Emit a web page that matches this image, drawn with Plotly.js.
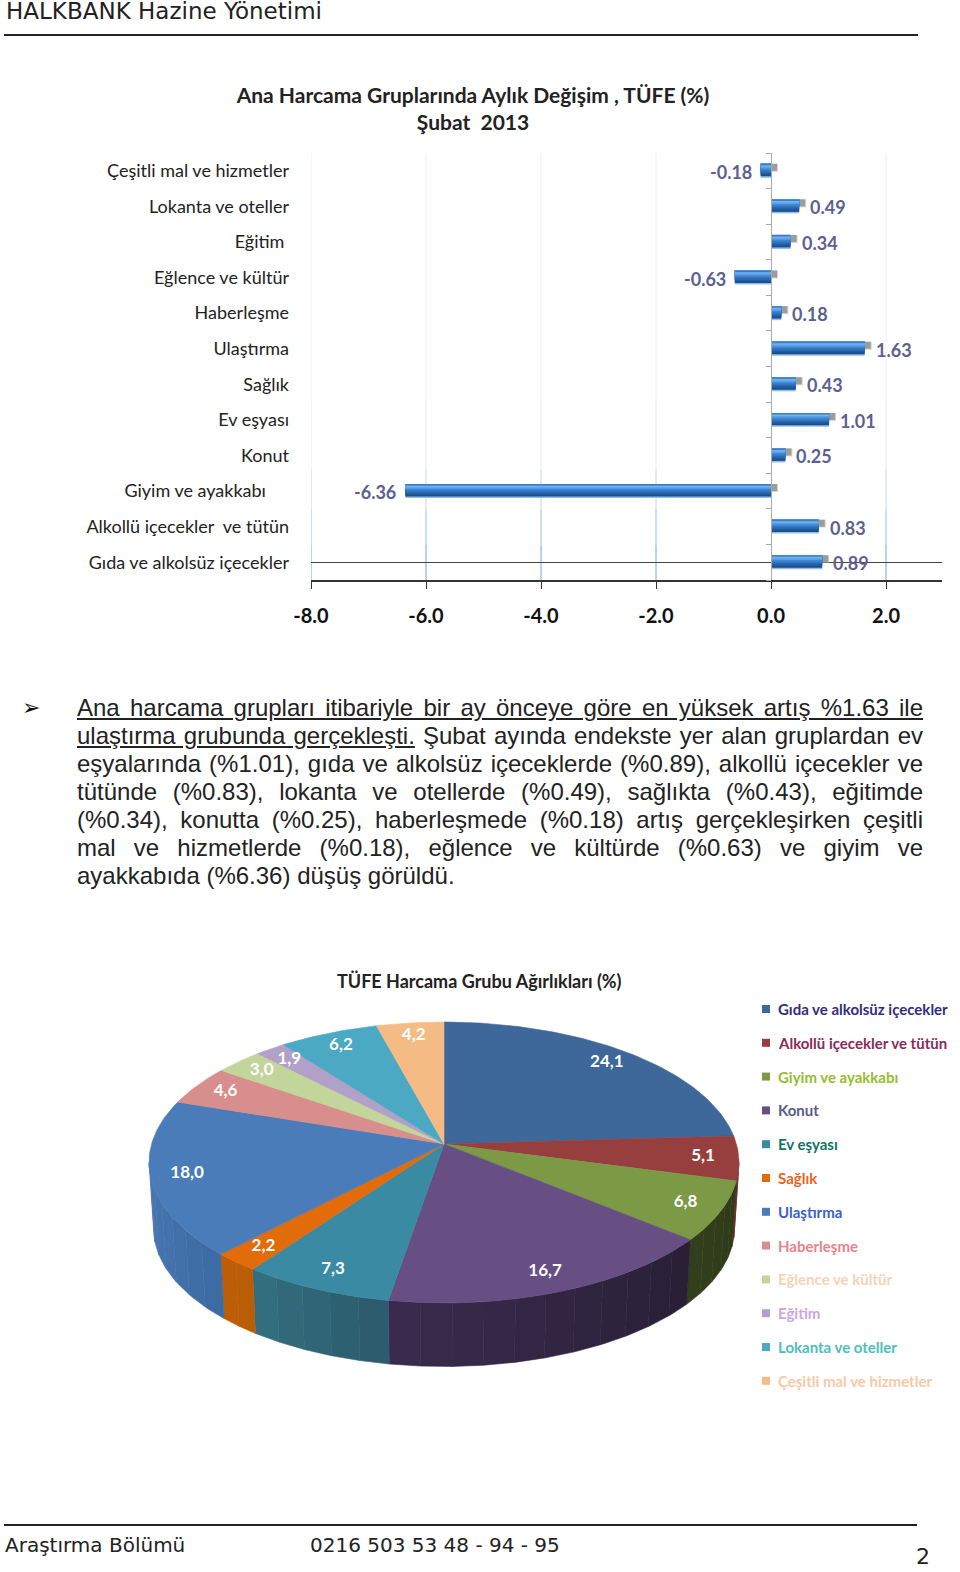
<!DOCTYPE html>
<html>
<head>
<meta charset="utf-8">
<script src="https://cdn.plot.ly/plotly-3.0.1.min.js"></script>
<style>
  html, body { margin: 0; padding: 0; background: #fff; overflow: hidden; }
  #page { position: relative; width: 960px; height: 1572px; }
  #chart { position: absolute; left: 0; top: 0; width: 960px; height: 1572px; }
  #bullet { position: absolute; left: 22px; top: 694px; font: 22px/28px 'DejaVu Sans'; color: #111; }
  #para { position: absolute; left: 77px; top: 694px; width: 846px; font: 24px/28px 'Liberation Sans', Arial, sans-serif; color: #222; }
  #para div { text-align: justify; text-align-last: justify; }
  #para div.last { text-align: left; text-align-last: left; }
</style>
</head>
<body>
<div id="page">
  <div id="chart"></div>
  <div id="bullet">&#10146;</div>
  <div id="para">
    <div><u>Ana harcama grupları itibariyle bir ay önceye göre en yüksek artış %1.63 ile</u></div>
    <div><u>ulaştırma grubunda gerçekleşti.</u> Şubat ayında endekste yer alan gruplardan ev</div>
    <div>eşyalarında (%1.01), gıda ve alkolsüz içeceklerde (%0.89), alkollü içecekler ve</div>
    <div>tütünde (%0.83), lokanta ve otellerde (%0.49), sağlıkta (%0.43), eğitimde</div>
    <div>(%0.34), konutta (%0.25), haberleşmede (%0.18) artış gerçekleşirken çeşitli</div>
    <div>mal ve hizmetlerde (%0.18), eğlence ve kültürde (%0.63) ve giyim ve</div>
    <div class="last">ayakkabıda (%6.36) düşüş görüldü.</div>
  </div>
</div>
<script>
// expenditure groups, same order in both charts (bar chart reads bottom to top)
const categories = ['Gıda ve alkolsüz içecekler', 'Alkollü içecekler ve tütün', 'Giyim ve ayakkabı', 'Konut',
  'Ev eşyası', 'Sağlık', 'Ulaştırma', 'Haberleşme', 'Eğlence ve kültür', 'Eğitim', 'Lokanta ve oteller', 'Çeşitli mal ve hizmetler'];
const changes = [0.89, 0.83, -6.36, 0.25, 1.01, 0.43, 1.63, 0.18, -0.63, 0.34, 0.49, -0.18];
const weights = [24.1, 5.1, 6.8, 16.7, 7.3, 2.2, 18.0, 4.6, 3.0, 1.9, 6.2, 4.2];
const xTicks = [-8, -6, -4, -2, 0, 2];
const xTickLabels = ['-8.0', '-6.0', '-4.0', '-2.0', '0.0', '2.0'];

const sliceColors = ['#3e679a', '#973f3e', '#7c9a46', '#674f83', '#3a8aa3', '#e26b0a', '#4b7cba', '#d88e8c', '#c2d59b', '#b1a0c7', '#4ca9c4', '#f5bb85'];
const wallFrom = ['#3e679a', '#6a2a2a', '#2e3a18', '#281f35', '#2b5a6c', '#b85c08', '#3c6ba3', '#d88e8c', '#c2d59b', '#b1a0c7', '#4ca9c4', '#f5bb85'];
const wallTo = ['#3e679a', '#6a2a2a', '#333f1c', '#3a2b4f', '#33707f', '#bf5e05', '#4a78b4', '#d88e8c', '#c2d59b', '#b1a0c7', '#4ca9c4', '#f5bb85'];
const legendText = ['#2f2e7d', '#8a2a5a', '#95bd2d', '#5a5a8a', '#0f7466', '#e8641e', '#3a5fcd', '#e8838c', '#f5d3b5', '#c9a6e8', '#4dc0bd', '#f9c8a8'];

const FONT = 'Lato, sans-serif';
const px = (x) => x / 960;
const py = (y) => 1 - y / 1572;
const rows = categories.map((c, i) => i);

// pixel sizes of the bar plot: 57.5 px per x unit, 35.6 px per row
const X_UNIT = 57.5, ROW = 35.6;

// tick labels are not all flush, a few have trailing blanks in the original
const rowLabels = categories.map((c) => c);
rowLabels[1] = 'Alkollü içecekler\u00a0 ve tütün';
rowLabels[2] = 'Giyim ve ayakkabı\u00a0\u00a0\u00a0\u00a0\u00a0';
rowLabels[3] = 'Konut';
rowLabels[4] = 'Ev eşyası';
rowLabels[9] = 'Eğitim\u00a0';

var traces = [];

function barLayer(offsetPx, heightPx, color, base) {
  return {type: 'bar', orientation: 'h', x: changes, y: rows, base: base || 0,
    offset: offsetPx / ROW, width: heightPx / ROW,
    marker: {color: color, line: {width: 0}}, hoverinfo: 'skip', xaxis: 'x', yaxis: 'y'};
}

// soft shadow up and to the right of each bar
traces.push(barLayer(-1, 8, 'rgba(170,170,170,0.5)', 7 / X_UNIT));
traces.push(barLayer(0, 7, '#9c9c9c', 6 / X_UNIT));
// gradient of the bar face, bottom strip first
const bandColors = ['#8cc0ee', '#1d4d8a', '#23599c', '#2a68b0', '#3377c4', '#3f88d6', '#5aa0e8', '#74b2f0', '#3a7fc8'];
bandColors.forEach((c, i) => {
  traces.push(barLayer(-7 + i * 1.55, 14 - i * 1.55, c));
});

// 3D pie, projected from the unit circle; the axes turn the units into pixels
const PERSP = 0.1317, WALL_DROP = 0.478, WALL_SCALE = 0.985;
function topPoint(theta, r) {
  var u = r * Math.sin(theta), v = r * Math.cos(theta), w = 1 + PERSP * v;
  return [u / w, v / w];
}
function wallPoint(theta) {
  var p = topPoint(theta, 1);
  return [p[0] * WALL_SCALE, p[1] * WALL_SCALE - WALL_DROP];
}
function mix(a, b, t) {
  var ch = (s, i) => parseInt(s.substr(1 + i * 2, 2), 16);
  var out = [0, 1, 2].map((i) => Math.round(ch(a, i) + (ch(b, i) - ch(a, i)) * t));
  return 'rgb(' + out.join(',') + ')';
}
function polygon(points, color) {
  var xs = points.map((p) => p[0]), ys = points.map((p) => p[1]);
  xs.push(xs[0]); ys.push(ys[0]);
  return {type: 'scatter', mode: 'lines', x: xs, y: ys, fill: 'toself', fillcolor: color,
    line: {color: color, width: 0.6}, hoverinfo: 'skip', xaxis: 'x2', yaxis: 'y2'};
}

const total = weights.reduce((a, b) => a + b, 0);
const STEP = Math.PI / 180;
const wallMin = Math.acos(-PERSP), wallMax = 2 * Math.PI - wallMin;
var spans = [], running = 0;
weights.forEach((w) => {
  var start = running / total * 2 * Math.PI;
  running += w;
  spans.push([start, running / total * 2 * Math.PI]);
});

// side walls first, only the part that faces us, in strips for the shading
spans.forEach((s, i) => {
  var a = Math.max(s[0], wallMin), b = Math.min(s[1], wallMax);
  if (b <= a) return;
  var strips = Math.ceil((b - a) / (6 * STEP));
  for (var k = 0; k < strips; k++) {
    var t0 = a + (b - a) * k / strips, t1 = a + (b - a) * (k + 1) / strips;
    var pts = [];
    for (var t = t0; t < t1; t += STEP) pts.push(topPoint(t, 1));
    pts.push(topPoint(t1, 1));
    pts.push(wallPoint(t1));
    for (var t2 = t1; t2 > t0; t2 -= STEP) pts.push(wallPoint(t2));
    pts.push(wallPoint(t0));
    traces.push(polygon(pts, mix(wallFrom[i], wallTo[i], (k + 0.5) / strips)));
  }
});
// top face
spans.forEach((s, i) => {
  var pts = [[0, 0]];
  for (var t = s[0]; t < s[1]; t += STEP) pts.push(topPoint(t, 1));
  pts.push(topPoint(s[1], 1));
  traces.push(polygon(pts, sliceColors[i]));
});
// slice labels
const labelPoints = spans.map((s) => topPoint((s[0] + s[1]) / 2, 0.88));
traces.push({type: 'scatter', mode: 'text', xaxis: 'x2', yaxis: 'y2', hoverinfo: 'skip',
  x: labelPoints.map((p) => p[0]), y: labelPoints.map((p) => p[1]),
  text: weights.map((w) => w.toFixed(1).replace('.', ',')),
  textfont: {family: FONT, size: 17, color: '#fff', weight: 700}});

// gridlines fade from pale pink at the top to blue at the axis
var shapes = [];
const gridStops = [[153, 400, '#f6eef0'], [400, 470, '#e6e8f0'], [470, 510, '#c4d6ea'], [510, 545, '#9cc0e4'], [545, 580, '#6ea6dc']];
xTicks.forEach((t) => {
  if (t === 0) return;
  gridStops.forEach((g) => {
    shapes.push({type: 'line', layer: 'below', xref: 'x', yref: 'paper', x0: t, x1: t, y0: py(g[0]), y1: py(g[1]),
      line: {color: g[2], width: 1}});
  });
});
// header and footer rules
shapes.push({type: 'line', xref: 'paper', yref: 'paper', x0: px(4), x1: px(918), y0: py(35), y1: py(35), line: {color: '#222', width: 2}});
shapes.push({type: 'line', xref: 'paper', yref: 'paper', x0: px(4), x1: px(917), y0: py(1525), y1: py(1525), line: {color: '#222', width: 2}});

var annotations = [];
function note(x, y, text, size, color, opts) {
  annotations.push(Object.assign({xref: 'paper', yref: 'paper', x: px(x), y: py(y), text: text, showarrow: false,
    xanchor: 'left', yanchor: 'middle', align: 'left', borderpad: 0,
    font: {family: FONT, size: size, color: color}}, opts || {}));
}
note(5, 11, 'HALKBANK Hazine Yönetimi', 23, '#222', {font: {family: 'DejaVu Sans', size: 23, color: '#222'}});
note(4, 1545, 'Araştırma Bölümü', 20, '#222', {font: {family: 'DejaVu Sans', size: 20, color: '#222'}});
note(309, 1545, '0216 503 53 48 - 94 - 95', 20, '#222', {font: {family: 'DejaVu Sans', size: 20, color: '#222'}});
note(915, 1556, '2', 22, '#222', {font: {family: 'DejaVu Sans', size: 22, color: '#222'}});
note(479, 981, 'TÜFE Harcama Grubu Ağırlıkları (%)', 18, '#222', {xanchor: 'center', font: {family: FONT, size: 18, color: '#222', weight: 700}});

// value labels next to the bars
changes.forEach((v, i) => {
  annotations.push({xref: 'x', yref: 'y', x: v, y: i, text: v.toFixed(2), showarrow: false,
    xanchor: v < 0 ? 'right' : 'left', xshift: v < 0 ? -7 : 9, yshift: -1,
    font: {family: FONT, size: 18, color: '#5b5f92', weight: 700}});
});

// legend with its coloured text, drawn by hand since plotly has one text colour per legend
categories.forEach((c, i) => {
  var y = 1009 + i * 33.8;
  shapes.push({type: 'rect', xref: 'paper', yref: 'paper', x0: px(762), x1: px(770), y0: py(y - 4), y1: py(y + 4),
    fillcolor: sliceColors[i], line: {width: 0}});
  note(777, y, c, 15, legendText[i], {font: {family: FONT, size: 15, color: legendText[i], weight: 700}});
});

const layout = {
  width: 960, height: 1572, autosize: false,
  margin: {l: 0, r: 0, t: 0, b: 0},
  paper_bgcolor: '#fff', plot_bgcolor: 'rgba(0,0,0,0)',
  showlegend: false, barmode: 'overlay',
  title: {text: 'Ana Harcama Gruplarında Aylık Değişim , TÜFE (%)<br>Şubat\u00a0 2013',
    x: 473 / 960, xanchor: 'center', y: py(103), yanchor: 'middle',
    font: {family: FONT, size: 21, color: '#222', weight: 700}},
  xaxis: {domain: [px(311), px(942)], range: [-8, 171 / X_UNIT], anchor: 'y',
    tickmode: 'array', tickvals: xTicks, ticktext: xTickLabels, ticks: 'outside', ticklen: 7, tickcolor: '#333',
    tickfont: {family: FONT, size: 20, color: '#111', weight: 700}, ticklabelstandoff: 10,
    showgrid: false, zeroline: false, showline: true, linecolor: '#333', linewidth: 1.5},
  yaxis: {domain: [py(580), py(153)], range: [-0.5, 11.5], anchor: 'x',
    tickmode: 'array', tickvals: rows, ticktext: rowLabels, ticks: '', ticklabelstandoff: 21,
    tickfont: {family: FONT, size: 18, color: '#222'},
    showgrid: false, zeroline: true, zerolinewidth: 0, showline: false},
  // tick column on the zero line, ticks sit between the rows
  yaxis3: {overlaying: 'y', anchor: 'free', position: 771 / 960 * 1, side: 'left', range: [-0.5, 11.5],
    tickmode: 'array', tickvals: rows.concat([12]).map((r) => r - 0.5), ticks: 'outside', ticklen: 5, tickcolor: '#aaa',
    showticklabels: false, showgrid: false, zeroline: false, showline: true, linecolor: '#aaa', linewidth: 1},
  xaxis2: {domain: [px(444 - 292.4 * 1.1), px(444 + 292.4 * 1.1)], range: [-1.1, 1.1], anchor: 'y2', visible: false},
  yaxis2: {domain: [py(1144 + 138 * 1.8), py(1144 - 138 * 1.2)], range: [-1.8, 1.2], anchor: 'x2', visible: false},
  shapes: shapes,
  annotations: annotations
};

// dummy trace so the tick column axis is drawn
traces.unshift({type: 'scatter', mode: 'markers', x: [0], y: [0], xaxis: 'x', yaxis: 'y3', marker: {opacity: 0}, hoverinfo: 'skip'});

Plotly.newPlot('chart', traces, layout, {displayModeBar: false, staticPlot: true});
</script>
</body>
</html>
